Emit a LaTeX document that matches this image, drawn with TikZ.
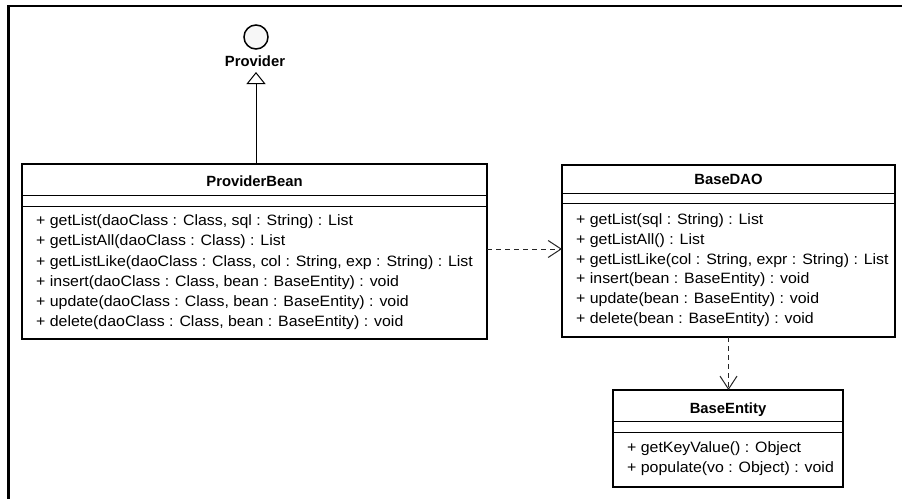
\documentclass[tikz,border=0pt]{standalone}
\usepackage{fontspec}
\setmainfont{Liberation Sans}
\newfontfamily\bodyfont{Liberation Sans}[FakeStretch=1.06]
\usetikzlibrary{arrows.meta}
\tikzset{
  classbox/.style={draw, line width=2pt, inner sep=0pt, outer sep=0pt, fill=white},
  sepline/.style={line width=1pt},
  meth/.style={anchor=west, inner sep=0pt, text height=11pt, text depth=3pt, font=\bodyfont\fontsize{15}{18}\selectfont},
  cname/.style={anchor=center, inner sep=0pt, text height=11pt, text depth=0pt, font=\fontsize{14.8}{18}\selectfont\bfseries},
  dep/.style={draw=black!85, line width=1pt, dash pattern=on 5pt off 4pt, -{Straight Barb[length=13pt, width=17pt, line width=1pt]}},
  real/.style={draw, line width=1pt, -{Triangle[open, length=12pt, width=19pt, line width=1pt, fill=white]}},
  frameline/.style={line width=2.5pt}
}
\begin{document}
\begin{tikzpicture}[x=1pt, y=-1pt]
\useasboundingbox (0,0) rectangle (902,498);
\fill[white] (0,0) rectangle (902,498);
% frame
\draw[frameline] (905,6.2) -- (8.7,6.2) -- (8.7,502);

% Provider interface
\node[draw, circle, minimum size=24pt, inner sep=0pt, line width=1.5pt, fill=black!3] (provc) at (256,37) {};
\node[cname] (prov) at (255,61) {Provider};
\coordinate (provtip) at (256,72);

% ProviderBean
\node[classbox, minimum width=465pt, minimum height=175pt] (pb) at (254.5,251.5) {};
\draw[sepline] (22,195) -- (487,195);
\draw[sepline] (22,206) -- (487,206);
\node[cname] (pbn) at (254.5,181) {ProviderBean};
\node[meth] (pb1) at (36,221.5) {+ getList(daoClass : Class, sql : String) : List};
\node[meth] (pb2) at (36,241.7) {+ getListAll(daoClass : Class) : List};
\node[meth] (pb3) at (36,262.0) {+ getListLike(daoClass : Class, col : String, exp : String) : List};
\node[meth] (pb4) at (36,282.3) {+ insert(daoClass : Class, bean : BaseEntity) : void};
\node[meth] (pb5) at (36,302.5) {+ update(daoClass : Class, bean : BaseEntity) : void};
\node[meth] (pb6) at (36,322.7) {+ delete(daoClass : Class, bean : BaseEntity) : void};

% BaseDAO
\node[classbox, minimum width=333pt, minimum height=172pt] (dao) at (728.5,251) {};
\draw[sepline] (562,193) -- (895,193);
\draw[sepline] (562,203) -- (895,203);
\node[cname] (daon) at (728.5,179) {BaseDAO};
\node[meth] (d1) at (576,220.5) {+ getList(sql : String) : List};
\node[meth] (d2) at (576,240.3) {+ getListAll() : List};
\node[meth] (d3) at (576,260.1) {+ getListLike(col : String, expr : String) : List};
\node[meth] (d4) at (576,279.9) {+ insert(bean : BaseEntity) : void};
\node[meth] (d5) at (576,299.7) {+ update(bean : BaseEntity) : void};
\node[meth] (d6) at (576,319.5) {+ delete(bean : BaseEntity) : void};

% BaseEntity
\node[classbox, minimum width=230pt, minimum height=97pt] (ent) at (728,438.5) {};
\draw[sepline] (613,421) -- (843,421);
\draw[sepline] (613,432) -- (843,432);
\node[cname] (entn) at (728,408) {BaseEntity};
\node[meth] (e1) at (627,448) {+ getKeyValue() : Object};
\node[meth] (e2) at (627,468) {+ populate(vo : Object) : void};

% connectors
\draw[real] (pb.north -| provtip) -- (provtip);
\draw[dep] ([yshift=2.5pt]pb.east) -- ([yshift=2.5pt]pb.east -| dao.west);
\draw[dep] (dao.south) -- (dao.south |- ent.north);
\end{tikzpicture}
\end{document}
